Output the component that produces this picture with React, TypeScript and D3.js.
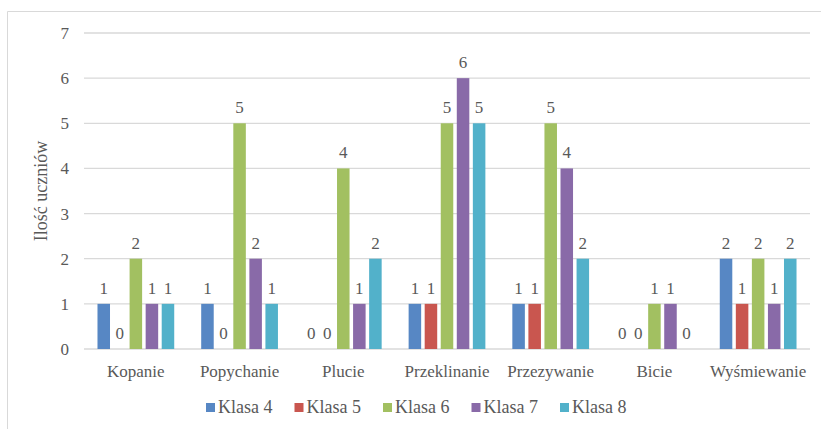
import React from "react";
import * as d3 from "d3";

const categories = ["Kopanie", "Popychanie", "Plucie", "Przeklinanie", "Przezywanie", "Bicie", "Wyśmiewanie"];
const seriesNames = ["Klasa 4", "Klasa 5", "Klasa 6", "Klasa 7", "Klasa 8"];
const klasa4 = [1, 1, 0, 1, 1, 0, 2];
const klasa5 = [0, 0, 0, 1, 1, 0, 1];
const klasa6 = [2, 5, 4, 5, 5, 1, 2];
const klasa7 = [1, 2, 1, 6, 4, 1, 1];
const klasa8 = [1, 1, 2, 5, 2, 0, 2];
const yTicks = [0, 1, 2, 3, 4, 5, 6, 7];
const colors = ["#5787C4", "#C9564F", "#A2C061", "#896AA8", "#52B1CA"];

const W = 821;
const H = 429;
const FONT = "'Times New Roman', 'Liberation Serif', Tinos, 'DejaVu Serif', 'Noto Serif', FreeSerif, Times, serif";
const TXT = "#595959";

export default function App() {
  const series = [klasa4, klasa5, klasa6, klasa7, klasa8];
  const left = 84, right = 810, top = 33, bottom = 349;
  const x0 = d3.scaleBand<string>().domain(categories).range([left, right]).paddingInner(0.26).paddingOuter(0.13);
  const x1 = d3.scaleBand<string>().domain(seriesNames).range([0, x0.bandwidth()]).paddingInner(0.22);
  const y = d3.scaleLinear().domain([0, 7]).range([bottom, top]);
  const legendX = d3.scalePoint<string>().domain(seriesNames).range([206, 560]);
  const ts = { fontFamily: FONT } as React.CSSProperties;

  return (
    <svg width={W} height={H} style={{ position: "absolute", left: 0, top: 0, background: "#fff", fontFamily: FONT }}>
      <rect x={0} y={0} width={W} height={H} fill="#fff" />
      <path d={`M7.5,${H} V11.5 H${W}`} fill="none" stroke="#d9d9d9" strokeWidth={1} />
      {yTicks.map((t) => (
        <g key={t}>
          <line x1={left} x2={right} y1={y(t)} y2={y(t)} stroke="#d9d9d9" strokeWidth={1.3} />
          <text x={69} y={y(t)} dy="0.35em" textAnchor="end" fontSize={17} fill={TXT} style={ts}>{t}</text>
        </g>
      ))}
      <text transform={`translate(47,${(top + bottom) / 2}) rotate(-90)`} textAnchor="middle" fontSize={18} fill={TXT} style={ts}>Ilość uczniów</text>
      {categories.map((c, i) => (
        <g key={c}>
          {series.map((s, j) => {
            const bx = (x0(c) as number) + (x1(seriesNames[j]) as number);
            const v = s[i];
            return (
              <g key={j}>
                {v > 0 && (
                  <rect x={bx} y={y(v)} width={x1.bandwidth()} height={y(0) - y(v)} fill={colors[j]} />
                )}
                <text x={bx + x1.bandwidth() / 2} y={y(v) - 10} textAnchor="middle" fontSize={17} fill={TXT} style={ts}>{v}</text>
              </g>
            );
          })}
          <text x={(x0(c) as number) + x0.bandwidth() / 2} y={377} textAnchor="middle" fontSize={17} fill={TXT} style={ts}>{c}</text>
        </g>
      ))}
      {seriesNames.map((n, j) => (
        <g key={n} transform={`translate(${legendX(n)},0)`}>
          <rect x={0} y={403} width={9} height={9} fill={colors[j]} />
          <text x={12} y={413} fontSize={18} fill={TXT} style={ts}>{n}</text>
        </g>
      ))}
    </svg>
  );
}
